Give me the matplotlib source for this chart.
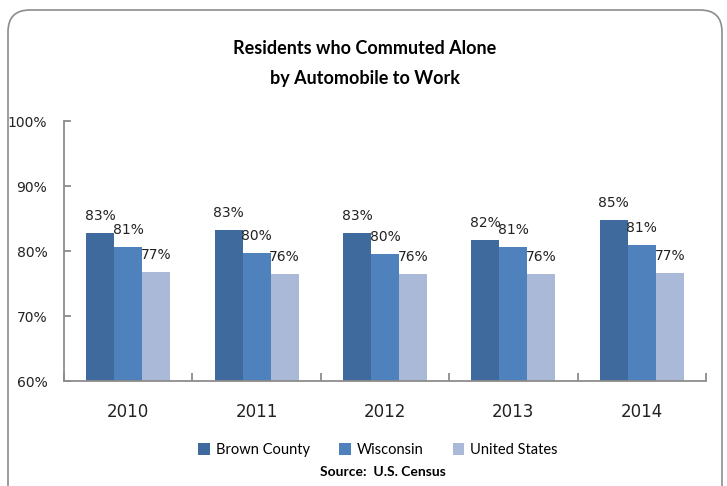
import numpy as np
import matplotlib.pyplot as plt
from matplotlib.patches import FancyBboxPatch, Patch

# values (percent)
years = ["2010", "2011", "2012", "2013", "2014"]
brown_county = [82.8, 83.3, 82.8, 81.7, 84.8]
wisconsin = [80.6, 79.7, 79.5, 80.6, 81.0]
united_states = [76.7, 76.4, 76.4, 76.4, 76.6]
series_names = ["Brown County", "Wisconsin", "United States"]
colors = ["#3F6A9D", "#4F81BD", "#AAB9D7"]

fig = plt.figure(figsize=(7.27, 4.86), dpi=100)

# rounded frame around the chart, kept behind the axes
frame = FancyBboxPatch((8 / 727, -0.1), 714 / 727, 1 - 10 / 486 + 0.1,
                       boxstyle="round,pad=0,rounding_size=0.03",
                       transform=fig.transFigure, facecolor="white",
                       edgecolor="#8C8C8C", linewidth=1.2, mutation_aspect=727 / 486,
                       zorder=-10)
fig.patches.append(frame)

ax = fig.add_axes([64 / 727, 1 - 381 / 486, 642 / 727, 260 / 486])
ax.set_facecolor("none")

x = np.arange(len(years))
width = 0.218
for i, (vals, name, col) in enumerate(zip([brown_county, wisconsin, united_states],
                                          series_names, colors)):
    bars = ax.bar(x + (i - 1) * width, vals, width, color=col, label=name, zorder=2)
    for b, v in zip(bars, vals):
        ax.annotate(f"{round(v):.0f}%", (b.get_x() + b.get_width() / 2, v),
                    xytext=(0, 10), textcoords="offset pixels",
                    ha="center", va="bottom", fontsize=10, color="#222222",
                    family="DejaVu Sans")

ax.set_xlim(-0.5, len(years) - 0.5)
ax.set_ylim(60, 100)
ax.set_yticks([60, 70, 80, 90, 100])
ax.set_yticklabels(["60%", "70%", "80%", "90%", "100%"], fontsize=10, color="#222222")
ax.set_xticks(x)
ax.set_xticklabels(years, fontsize=12, color="#222222")
ax.set_xticks(np.arange(-0.5, len(years)), minor=True)

for side in ["top", "right"]:
    ax.spines[side].set_visible(False)
for side in ["left", "bottom"]:
    ax.spines[side].set_color("#8C8C8C")
    ax.spines[side].set_linewidth(1.3)

ax.tick_params(axis="y", direction="in", length=5, color="#8C8C8C", width=1.3, pad=12)
ax.tick_params(axis="x", which="major", length=0, pad=16)
ax.tick_params(axis="x", which="minor", direction="in", length=6, color="#8C8C8C", width=1.3)

fig.text(365 / 727, 1 - 48 / 486, "Residents who Commuted Alone", ha="center", va="center",
         fontsize=13, fontweight="bold", family="Lato")
fig.text(365 / 727, 1 - 78 / 486, "by Automobile to Work", ha="center", va="center",
         fontsize=13, fontweight="bold", family="Lato")

handles = [Patch(facecolor=c, label=n) for c, n in zip(colors, series_names)]
fig.legend(handles=handles, loc="center", bbox_to_anchor=(378 / 727, 1 - 450 / 486),
           ncol=3, frameon=False, handlelength=0.8, handleheight=0.8,
           handletextpad=0.4, columnspacing=2.0, prop={"family": "Lato", "size": 10.5})

fig.text(383 / 727, 1 - 472 / 486, "Source:  U.S. Census", ha="center", va="center",
         fontsize=10, fontweight="bold", family="Lato")

fig.savefig("out.png", dpi=100)
